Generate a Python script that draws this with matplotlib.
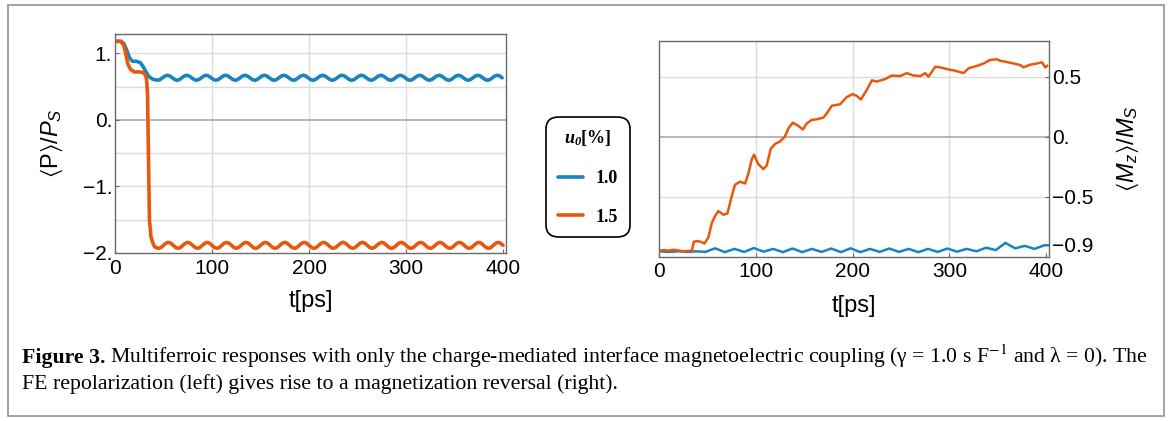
import matplotlib
matplotlib.use('Agg')
import matplotlib.pyplot as plt
import numpy as np
from matplotlib.patches import Rectangle

# ---- data ----
# left panel: polarization <P>/P_S vs t[ps]
# start-up part (explicit times), then the steady oscillation sampled every 2.5 ps
t_p10_start = [0, 6, 9, 12, 15, 18, 22, 26, 29, 32, 35, 39]
p10_start = [1.18, 1.18, 1.15, 1.05, 0.93, 0.88, 0.88, 0.86, 0.80, 0.72, 0.65, 0.61]
t_p10_wave = np.arange(44, 400, 2.5)
p10_wave = [
    0.595, 0.606, 0.632, 0.659, 0.670, 0.659, 0.632, 0.606,
    0.595, 0.606, 0.632, 0.659, 0.670, 0.659, 0.632, 0.606,
    0.595, 0.606, 0.632, 0.659, 0.670, 0.659, 0.632, 0.606,
    0.595, 0.606, 0.632, 0.659, 0.670, 0.659, 0.632, 0.606,
    0.595, 0.606, 0.632, 0.659, 0.670, 0.659, 0.632, 0.606,
    0.595, 0.606, 0.632, 0.659, 0.670, 0.659, 0.632, 0.606,
    0.595, 0.606, 0.632, 0.659, 0.670, 0.659, 0.632, 0.606,
    0.595, 0.606, 0.632, 0.659, 0.670, 0.659, 0.632, 0.606,
    0.595, 0.606, 0.632, 0.659, 0.670, 0.659, 0.632, 0.606,
    0.595, 0.606, 0.632, 0.659, 0.670, 0.659, 0.632, 0.606,
    0.595, 0.606, 0.632, 0.659, 0.670, 0.659, 0.632, 0.606,
    0.595, 0.606, 0.632, 0.659, 0.670, 0.659, 0.632, 0.606,
    0.595, 0.606, 0.632, 0.659, 0.670, 0.659, 0.632, 0.606,
    0.595, 0.606, 0.632, 0.659, 0.670, 0.659, 0.632, 0.606,
    0.595, 0.606, 0.632, 0.659, 0.670, 0.659, 0.632, 0.606,
    0.595, 0.606, 0.632, 0.659, 0.670, 0.659, 0.632, 0.606,
    0.595, 0.606, 0.632, 0.659, 0.670, 0.659, 0.632, 0.606,
    0.595, 0.606, 0.632, 0.659, 0.670, 0.659, 0.632]

t_p15_start = [0, 6, 9, 11, 13, 16, 20, 26, 29, 31, 32.5, 33.5, 34.5, 35.5, 37, 39, 41]
p15_start = [1.18, 1.18, 1.12, 1.0, 0.85, 0.76, 0.72, 0.72, 0.71, 0.68, 0.62, 0.40,
             -0.6, -1.5, -1.75, -1.85, -1.91]
t_p15_wave = np.arange(45, 401, 2.5)
p15_wave = [
    -1.930, -1.917, -1.885, -1.853, -1.840, -1.853, -1.885, -1.917,
    -1.930, -1.917, -1.885, -1.853, -1.840, -1.853, -1.885, -1.917,
    -1.930, -1.917, -1.885, -1.853, -1.840, -1.853, -1.885, -1.917,
    -1.930, -1.917, -1.885, -1.853, -1.840, -1.853, -1.885, -1.917,
    -1.930, -1.917, -1.885, -1.853, -1.840, -1.853, -1.885, -1.917,
    -1.930, -1.917, -1.885, -1.853, -1.840, -1.853, -1.885, -1.917,
    -1.930, -1.917, -1.885, -1.853, -1.840, -1.853, -1.885, -1.917,
    -1.930, -1.917, -1.885, -1.853, -1.840, -1.853, -1.885, -1.917,
    -1.930, -1.917, -1.885, -1.853, -1.840, -1.853, -1.885, -1.917,
    -1.930, -1.917, -1.885, -1.853, -1.840, -1.853, -1.885, -1.917,
    -1.930, -1.917, -1.885, -1.853, -1.840, -1.853, -1.885, -1.917,
    -1.930, -1.917, -1.885, -1.853, -1.840, -1.853, -1.885, -1.917,
    -1.930, -1.917, -1.885, -1.853, -1.840, -1.853, -1.885, -1.917,
    -1.930, -1.917, -1.885, -1.853, -1.840, -1.853, -1.885, -1.917,
    -1.930, -1.917, -1.885, -1.853, -1.840, -1.853, -1.885, -1.917,
    -1.930, -1.917, -1.885, -1.853, -1.840, -1.853, -1.885, -1.917,
    -1.930, -1.917, -1.885, -1.853, -1.840, -1.853, -1.885, -1.917,
    -1.930, -1.917, -1.885, -1.853, -1.840, -1.853, -1.885]

# right panel: magnetization <M_z>/M_S vs t[ps]
t_m10 = [0, 10, 20, 30, 38, 48, 58, 68, 78, 88, 98, 108, 118, 128, 138, 148, 158,
         168, 178, 188, 198, 208, 218, 228, 238, 248, 258, 268, 278, 288, 298, 308,
         318, 328, 338, 348, 358, 368, 378, 388, 398, 403]
m10 = [-0.955, -0.96, -0.955, -0.96, -0.955, -0.96, -0.93, -0.962, -0.935, -0.96,
       -0.928, -0.958, -0.935, -0.962, -0.932, -0.962, -0.935, -0.96, -0.932, -0.962,
       -0.93, -0.962, -0.935, -0.96, -0.932, -0.96, -0.935, -0.962, -0.935, -0.96,
       -0.932, -0.958, -0.935, -0.955, -0.925, -0.945, -0.885, -0.93, -0.91, -0.935,
       -0.905, -0.905]

t_m15 = [0, 5, 10, 15, 20, 25, 30, 34, 36, 40, 44, 47, 51, 54.5, 58, 61.4, 66.5, 70.7,
         75, 78.6, 83.8, 89, 92.4, 95.8, 98.2, 102.7, 107.9, 111.3, 115.5, 120, 125,
         130, 133.8, 138.2, 144, 148.6, 152.7, 157.9, 163, 170, 173.4, 178.6, 187.2,
         194, 200, 204.4, 208.6, 214.7, 220, 225, 233.7, 240.6, 249.2, 256, 263, 270,
         275, 278.5, 285.4, 290.6, 299.2, 306, 314.7, 319.9, 328.5, 335.4, 342.2,
         349.1, 352.6, 357.8, 366.4, 373.3, 376.7, 383.6, 390.5, 395.7, 399.1, 401]
m15 = [-0.95, -0.945, -0.95, -0.942, -0.948, -0.955, -0.952, -0.95, -0.875, -0.87,
       -0.878, -0.89, -0.84, -0.72, -0.66, -0.62, -0.65, -0.64, -0.5, -0.40, -0.375,
       -0.39, -0.305, -0.19, -0.15, -0.23, -0.27, -0.24, -0.10, -0.06, -0.04, 0.0,
       0.07, 0.117, 0.09, 0.06, 0.11, 0.14, 0.145, 0.16, 0.194, 0.258, 0.27, 0.33,
       0.355, 0.34, 0.31, 0.39, 0.47, 0.46, 0.48, 0.51, 0.505, 0.53, 0.51, 0.505,
       0.53, 0.50, 0.583, 0.578, 0.56, 0.55, 0.53, 0.57, 0.59, 0.61, 0.64, 0.645,
       0.633, 0.625, 0.61, 0.597, 0.578, 0.60, 0.61, 0.62, 0.578, 0.59]

series_labels = ['1.0', '1.5']
legend_title = r'$\mathbf{u_0}$[%]'

x_ticks = [0, 100, 200, 300, 400]
p_ticks = [1, 0, -1, -2]
p_ticklabels = ['1.', '0.', '\u22121.', '\u22122.']
m_ticks = [0.5, 0, -0.5, -0.9]
m_ticklabels = ['0.5', '0.', '\u22120.5', '\u22120.9']
p_grid = [1, 0.5, -0.5, -1, -1.5]
m_grid = [0.5, -0.5]
t_grid = [100, 200, 300]

caption_bold = 'Figure 3.'
caption_1 = ('Multiferroic responses with only the charge-mediated interface magnetoelectric '
             'coupling (\u03b3 = 1.0 s F$^{-1}$ and \u03bb = 0). The')
caption_2 = 'FE repolarization (left) gives rise to a magnetization reversal (right).'

# ---- style ----
plt.rcParams['font.family'] = ['Liberation Sans', 'DejaVu Sans']
plt.rcParams['mathtext.fontset'] = 'custom'
plt.rcParams['mathtext.rm'] = 'Liberation Sans'
plt.rcParams['mathtext.it'] = 'Liberation Sans:italic'
plt.rcParams['mathtext.bf'] = 'Liberation Serif:bold:italic'
plt.rcParams['mathtext.fallback'] = 'stixsans'

blue = '#1a84bf'
orange = '#e8580c'
grid_c = '#dcdcdc'
zero_c = '#a3a3a3'
spine_c = '#6a6a6a'

fig = plt.figure(figsize=(11.71, 4.21), dpi=100)
W, H = 1171, 421

axL = fig.add_axes([115 / W, (H - 253) / H, 391 / W, 219 / H])
axR = fig.add_axes([659 / W, (H - 256.7) / H, 390 / W, 216 / H])

for ax in (axL, axR):
    for s in ax.spines.values():
        s.set_color(spine_c)
        s.set_linewidth(1.0)
    ax.tick_params(direction='in', length=3, width=0.8, color=spine_c,
                   labelsize=15, pad=2)
    ax.tick_params(axis='x', pad=4)
    for x in t_grid:
        ax.axvline(x, color=grid_c, lw=1.0, zorder=0)
    ax.axhline(0, color=zero_c, lw=1.1, zorder=0)
    ax.set_xticks(x_ticks)
    ax.set_xlim(0, 403)
    ax.set_xlabel('t[ps]', fontsize=17)

# left panel
for y in p_grid:
    axL.axhline(y, color=grid_c, lw=1.0, zorder=0)
lb, = axL.plot(t_p10_start + list(t_p10_wave), p10_start + p10_wave, color=blue,
               lw=2.6, solid_joinstyle='round', solid_capstyle='round',
               label=series_labels[0])
lo, = axL.plot(t_p15_start + list(t_p15_wave), p15_start + p15_wave, color=orange,
               lw=2.6, solid_joinstyle='round', solid_capstyle='round',
               label=series_labels[1])
axL.set_ylim(-2, 1.29)
axL.set_yticks(p_ticks)
axL.set_yticklabels(p_ticklabels)
axL.set_ylabel(r'$\langle$P$\rangle$/$P_S$', fontsize=17)
axL.yaxis.set_label_coords(-0.128, 0.5)
axL.xaxis.set_label_coords(0.5, -0.169)

# right panel
for y in m_grid:
    axR.axhline(y, color=grid_c, lw=1.0, zorder=0)
axR.plot(t_m10, m10, color=blue, lw=1.8)
axR.plot(t_m15, m15, color=orange, lw=1.8)
axR.set_ylim(-1.0, 0.8)
axR.yaxis.tick_right()
axR.yaxis.set_label_position('right')
axR.set_yticks(m_ticks)
axR.set_yticklabels(m_ticklabels)
axR.set_ylabel(r'$\langle M_z\rangle$/$M_S$', fontsize=17)
axR.yaxis.set_label_coords(1.169, 0.5)
axR.xaxis.set_label_coords(0.5, -0.177)

# legend between the panels
leg = fig.legend(handles=[lb, lo], labels=series_labels, title=legend_title,
                 loc='center', bbox_to_anchor=(588 / W, (H - 177) / H),
                 prop={'family': 'Liberation Serif', 'weight': 'bold', 'size': 13},
                 title_fontproperties={'family': 'Liberation Serif', 'weight': 'bold',
                                       'size': 13},
                 handlelength=1.4, handletextpad=0.7, labelspacing=1.2,
                 borderpad=0.65, fancybox=True, framealpha=1)
leg.get_frame().set_edgecolor('black')
leg.get_frame().set_linewidth(1.2)
leg.get_frame().set_boxstyle('round,pad=0,rounding_size=0.7')
for h in leg.legend_handles:
    h.set_linewidth(2.6)

# outer frame
fig.patches.append(Rectangle((8 / W, 5 / H), 1156 / W, 411 / H, transform=fig.transFigure,
                             fill=False, edgecolor='#9a9a9a', lw=1.3))

# caption
cap_kw = dict(family='Liberation Serif', fontsize=15.7, va='baseline')
tb = fig.text(22 / W, (H - 363) / H, caption_bold, weight='bold', **cap_kw)
fig.canvas.draw()
bb = tb.get_window_extent()
fig.text(bb.x1 / W + 4 / W, (H - 363) / H, caption_1, math_fontfamily='stix', **cap_kw)
fig.text(22 / W, (H - 389) / H, caption_2, **cap_kw)

fig.savefig('out.png', dpi=100)
